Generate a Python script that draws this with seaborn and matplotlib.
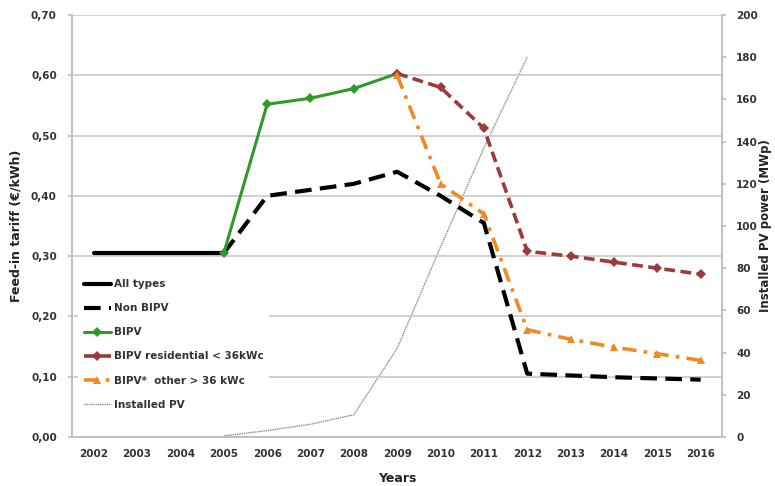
import matplotlib
matplotlib.use("Agg")
import matplotlib.pyplot as plt
import numpy as np
import seaborn as sns
from matplotlib.ticker import FuncFormatter

years = list(range(2002, 2017))

all_years = [2002, 2003, 2004, 2005]
all_types = [0.305, 0.305, 0.305, 0.305]

non_years = list(range(2005, 2017))
non_bipv = [0.305, 0.40, 0.41, 0.42, 0.44, 0.40, 0.355, 0.105, 0.102, 0.099, 0.097, 0.095]

bipv_years = [2005, 2006, 2007, 2008, 2009]
bipv = [0.305, 0.552, 0.562, 0.578, 0.603]

res_years = list(range(2009, 2017))
bipv_res = [0.603, 0.58, 0.512, 0.308, 0.30, 0.29, 0.28, 0.27]

oth_years = list(range(2009, 2017))
bipv_other = [0.60, 0.42, 0.37, 0.178, 0.162, 0.149, 0.138, 0.127]

pv_years = [2005, 2006, 2007, 2008, 2009, 2010, 2011, 2012]
installed_pv = [0.5, 3, 6, 10.5, 42, 90, 137, 180]

sns.set_theme(style="white")
plt.rcParams["font.family"] = ["DejaVu Sans"]
plt.rcParams["font.weight"] = "bold"

fig = plt.figure(figsize=(7.75, 4.86), dpi=100)
ax = fig.add_axes([0.093, 0.101, 0.839, 0.868])
ax2 = ax.twinx()

grey = "#cdcdcd"
for y in np.arange(0.1, 0.71, 0.1):
    ax.axhline(y, color=grey, lw=1.3, zorder=0)

sns.lineplot(x=all_years, y=all_types, ax=ax, color="black", lw=3, label="All types")
sns.lineplot(x=non_years, y=non_bipv, ax=ax, color="black", lw=3,
             label="Non BIPV").lines[-1].set_dashes([4, 2])
sns.lineplot(x=bipv_years, y=bipv, ax=ax, color="#2e9a2a", lw=2.2,
             marker="D", markersize=5, markeredgewidth=0, label="BIPV")
l4 = sns.lineplot(x=res_years, y=bipv_res, ax=ax, color="#9c3b3a", lw=2.6,
                  marker="D", markersize=5, markeredgewidth=0,
                  label="BIPV residential < 36kWc").lines[-1]
l4.set_dashes([3, 1.5])
l5 = sns.lineplot(x=oth_years, y=bipv_other, ax=ax, color="#f08a24", lw=2.6,
                  marker="^", markersize=6, markeredgewidth=0,
                  label="BIPV*  other > 36 kWc").lines[-1]
l5.set_dashes([4, 2, 1, 2])

sns.lineplot(x=pv_years, y=installed_pv, ax=ax2, color="#8a8a8a", lw=1,
             label="Installed PV", legend=False)
ax2.lines[-1].set_linestyle((0, (1, 0.6)))

ax.set_xlim(2001.5, 2016.5)
ax.set_ylim(0, 0.7)
ax2.set_ylim(0, 200)
ax.set_xticks(years)
ax.set_xticklabels([str(y) for y in years], fontsize=7.5, fontweight="bold", color="#333333")
ax.set_yticks(np.arange(0, 0.71, 0.1))
ax.yaxis.set_major_formatter(FuncFormatter(lambda v, p: f"{v:.2f}".replace(".", ",")))
ax2.set_yticks(range(0, 201, 20))
for lab in ax.get_yticklabels() + ax2.get_yticklabels():
    lab.set_fontsize(7.5)
    lab.set_fontweight("bold")
    lab.set_color("#333333")

ax.set_xlabel("Years", fontsize=9, fontweight="bold", color="#222222", labelpad=9)
ax.set_ylabel("Feed-in tariff (€/kWh)", fontsize=9, fontweight="bold", color="#222222", labelpad=6)
ax2.set_ylabel("Installed PV power (MWp)", fontsize=8.5, fontweight="bold", color="#222222", labelpad=1)

for a in (ax, ax2):
    a.spines["top"].set_visible(False)
    for s in ("left", "right", "bottom"):
        a.spines[s].set_color("#c0c0c0")
        a.spines[s].set_linewidth(1.2)
    a.tick_params(length=3, color="#c0c0c0", pad=4)
ax.tick_params(axis="x", pad=6)
ax.tick_params(axis="y", pad=8)
ax2.tick_params(axis="y", pad=7)
ax.set_zorder(ax2.get_zorder() + 1)
ax.patch.set_visible(False)

h1, lb1 = ax.get_legend_handles_labels()
h2, lb2 = ax2.get_legend_handles_labels()
leg = ax.legend(h1 + h2, lb1 + lb2, loc="lower left", bbox_to_anchor=(0.005, 0.045),
                frameon=True, fancybox=False, edgecolor="white", facecolor="white",
                framealpha=1, fontsize=7.5, handlelength=2.6, handletextpad=0.3,
                labelspacing=1.35, borderpad=0.5, borderaxespad=0.3)
leg.get_frame().set_linewidth(0)
for t in leg.get_texts():
    t.set_fontweight("bold")
    t.set_color("#333333")

fig.savefig("out.png", dpi=100)
